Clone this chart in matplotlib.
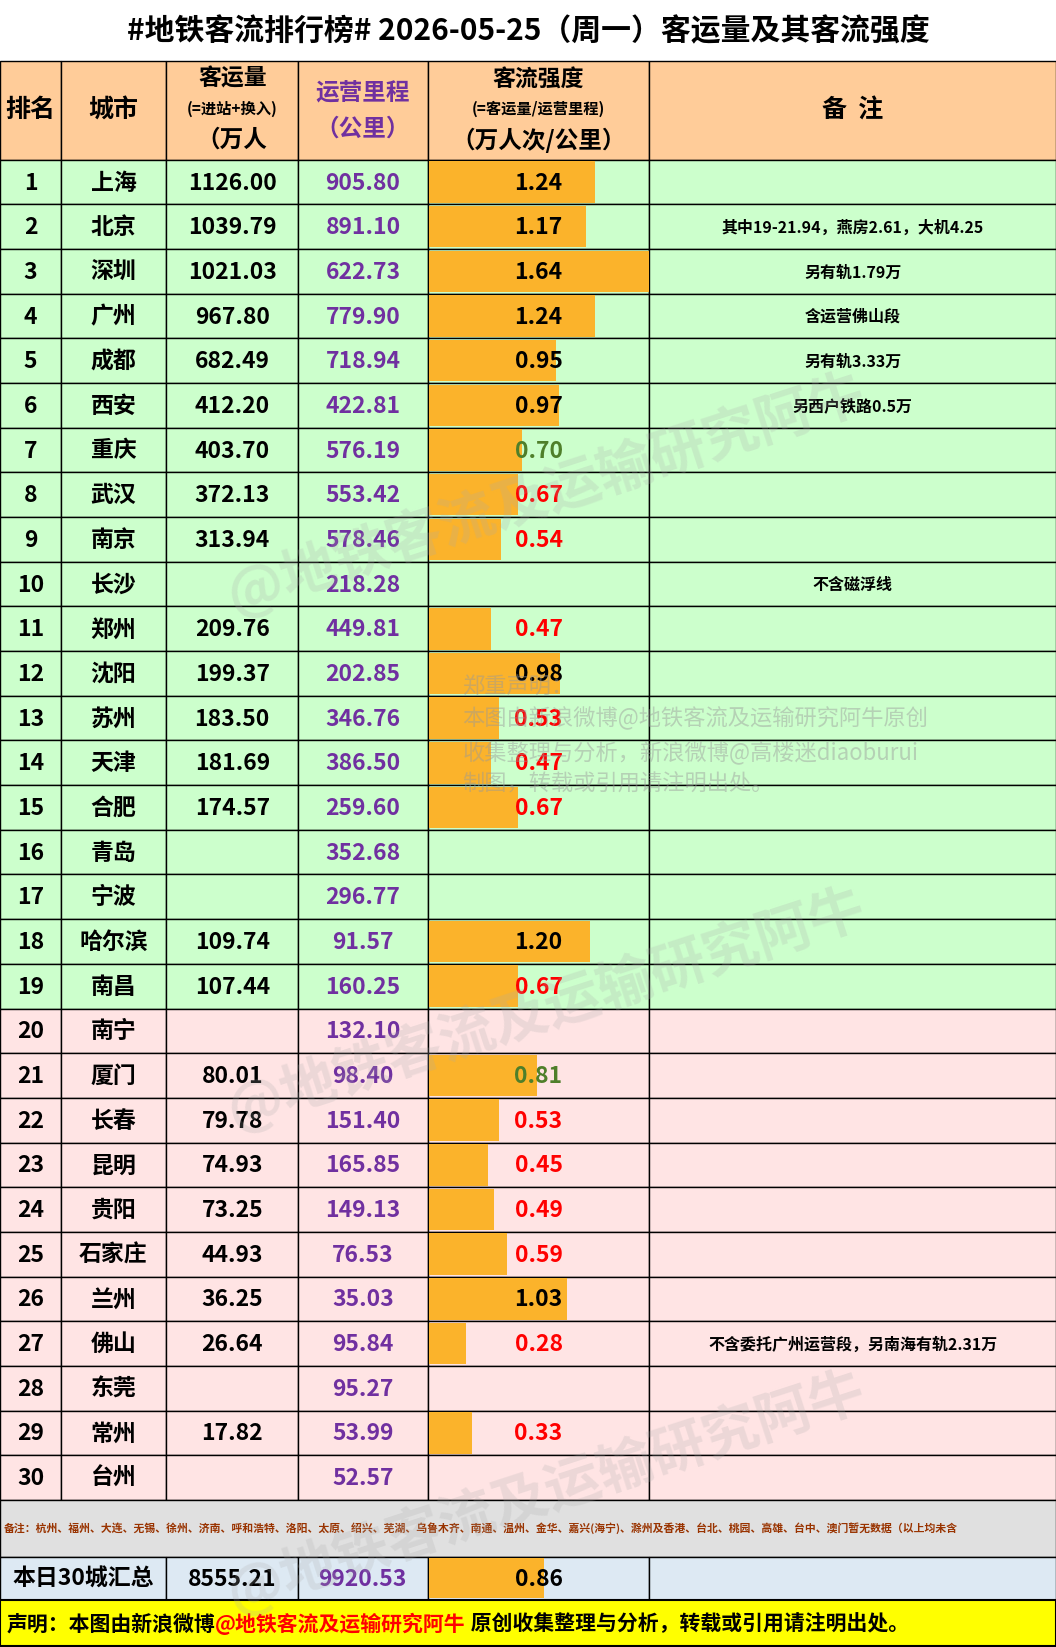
import matplotlib
matplotlib.use("Agg")
import matplotlib.pyplot as plt
from matplotlib.patches import Rectangle

plt.rcParams['font.family'] = ['Noto Sans CJK SC', 'DejaVu Sans']

ranks = list(range(1, 31))
cities = ["上海","北京","深圳","广州","成都","西安","重庆","武汉","南京","长沙","郑州","沈阳","苏州","天津","合肥",
          "青岛","宁波","哈尔滨","南昌","南宁","厦门","长春","昆明","贵阳","石家庄","兰州","佛山","东莞","常州","台州"]
volume = [1126.00,1039.79,1021.03,967.80,682.49,412.20,403.70,372.13,313.94,None,209.76,199.37,183.50,181.69,174.57,
          None,None,109.74,107.44,None,80.01,79.78,74.93,73.25,44.93,36.25,26.64,None,17.82,None]
mileage = [905.80,891.10,622.73,779.90,718.94,422.81,576.19,553.42,578.46,218.28,449.81,202.85,346.76,386.50,259.60,
           352.68,296.77,91.57,160.25,132.10,98.40,151.40,165.85,149.13,76.53,35.03,95.84,95.27,53.99,52.57]
intensity = [1.24,1.17,1.64,1.24,0.95,0.97,0.70,0.67,0.54,None,0.47,0.98,0.53,0.47,0.67,
             None,None,1.20,0.67,None,0.81,0.53,0.45,0.49,0.59,1.03,0.28,None,0.33,None]
remarks = {2:"其中19-21.94，燕房2.61，大机4.25",3:"另有轨1.79万",4:"含运营佛山段",5:"另有轨3.33万",
           6:"另西户铁路0.5万",10:"不含磁浮线",27:"不含委托广州运营段，另南海有轨2.31万"}
total_volume, total_mileage, total_intensity = "8555.21", "9920.53", 0.86

W, H = 1005, 1568
fig = plt.figure(figsize=(10.56, 16.47), dpi=100)
ax = fig.add_axes([0, 0, 1, 1])
ax.set_xlim(0, W); ax.set_ylim(H, 0); ax.axis('off')

cols = [0, 58, 158, 284, 407, 618, W]
cx = [(cols[i]+cols[i+1])/2 for i in range(6)]
PURPLE = '#7030a0'; ORANGE = '#fbb32b'

def rect(x0, y0, x1, y1, fc, lw=1.0):
    ax.add_patch(Rectangle((x0, y0), x1-x0, y1-y0, facecolor=fc, edgecolor='black', lw=lw))

ax.add_patch(Rectangle((0, 0), W, H, facecolor='white', edgecolor='none'))
ax.text(W/2, 30, "#地铁客流排行榜# 2026-05-25（周一）客运量及其客流强度", ha='center', va='center',
        fontsize=21.5, fontweight='bold')

hy0, hy1 = 58, 152
for i in range(6):
    rect(cols[i], hy0, cols[i+1], hy1, '#ffcc99')
ax.text(cx[0], 105, "排名", ha='center', va='center', fontsize=18, fontweight='bold')
ax.text(cx[1], 105, "城市", ha='center', va='center', fontsize=18, fontweight='bold')
ax.text(cx[2], 75, "客运量", ha='center', va='center', fontsize=16.5, fontweight='bold')
ax.text(cx[2], 104, "(=进站+换入)", ha='center', va='center', fontsize=11, fontweight='bold')
ax.text(cx[2], 133, "（万人", ha='center', va='center', fontsize=17, fontweight='bold')
ax.text(cx[3], 89, "运营里程", ha='center', va='center', fontsize=17, fontweight='bold', color=PURPLE)
ax.text(cx[3], 122, "（公里）", ha='center', va='center', fontsize=17, fontweight='bold', color=PURPLE)
ax.text(cx[4], 76, "客流强度", ha='center', va='center', fontsize=16.5, fontweight='bold')
ax.text(cx[4], 104, "(=客运量/运营里程)", ha='center', va='center', fontsize=11, fontweight='bold')
ax.text(cx[4], 134, "（万人次/公里）", ha='center', va='center', fontsize=17, fontweight='bold')
ax.text(cx[5], 105, "备  注", ha='center', va='center', fontsize=18, fontweight='bold')

y0 = 152; rh = (1428-152)/30
maxI = 1.64
barw = cols[5]-cols[4]
for i, r in enumerate(ranks):
    ya = y0 + i*rh; yb = ya + rh; ym = (ya+yb)/2
    fc = '#ccffcc' if r <= 19 else '#ffe4e4'
    for j in range(6):
        rect(cols[j], ya, cols[j+1], yb, fc)
    v = intensity[i]
    if v is not None:
        ax.add_patch(Rectangle((cols[4]+1, ya+1.5), v/maxI*barw-1, rh-3, facecolor=ORANGE, edgecolor='none'))
        col = 'black' if v >= 0.9 else ('#4f7f2a' if v >= 0.7 else '#ff0000')
        ax.text(cx[4], ym+1, f"{v:.2f}", ha='center', va='center', fontsize=16.5, fontweight='bold', color=col)
    ax.text(cx[0], ym+1, str(r), ha='center', va='center', fontsize=16.5, fontweight='bold')
    ax.text(cx[1], ym+1, cities[i], ha='center', va='center', fontsize=16.5, fontweight='bold')
    if volume[i] is not None:
        ax.text(cx[2], ym+1, f"{volume[i]:.2f}", ha='center', va='center', fontsize=16.5, fontweight='bold')
    ax.text(cx[3], ym+1, f"{mileage[i]:.2f}", ha='center', va='center', fontsize=16.5, fontweight='bold', color=PURPLE)
    if r in remarks:
        ax.text(cx[5], ym+1, remarks[r], ha='center', va='center', fontsize=11.5, fontweight='bold')

rect(0, 1428, W, 1482, '#e0e0e0')
ax.text(4, 1455, "备注：杭州、福州、大连、无锡、徐州、济南、呼和浩特、洛阳、太原、绍兴、芜湖、乌鲁木齐、南通、温州、金华、嘉兴(海宁)、滁州及香港、台北、桃园、高雄、台中、澳门暂无数据（以上均未含",
        ha='left', va='center', fontsize=7.8, fontweight='bold', color='#993300', clip_on=True)

ty0, ty1 = 1482, 1523
tcols = [0, 158, 284, 407, 618, W]
for j in range(5):
    rect(tcols[j], ty0, tcols[j+1], ty1, '#dde9f3')
ax.add_patch(Rectangle((407+1, ty0+1.5), total_intensity/maxI*barw-1, ty1-ty0-3, facecolor=ORANGE, edgecolor='none'))
tm = (ty0+ty1)/2 + 1
ax.text(79, tm, "本日30城汇总", ha='center', va='center', fontsize=16.5, fontweight='bold')
ax.text(221, tm, total_volume, ha='center', va='center', fontsize=16.5, fontweight='bold')
ax.text(345, tm, total_mileage, ha='center', va='center', fontsize=16.5, fontweight='bold', color=PURPLE)
ax.text(cx[4], tm, f"{total_intensity:.2f}", ha='center', va='center', fontsize=16.5, fontweight='bold')

rect(0, 1523, W, H-1, '#ffff00', lw=1.5)
fig.canvas.draw()
r = fig.canvas.get_renderer()
x = 6
inv = ax.transData.inverted()
for s, c in [("声明：本图由新浪微博", 'black'), ("@地铁客流及运输研究阿牛", '#ff0000'),
             (" 原创收集整理与分析，转载或引用请注明出处。", 'black')]:
    t = ax.text(x, 1546, s, ha='left', va='center', fontsize=15, fontweight='bold', color=c)
    bb = t.get_window_extent(renderer=r)
    x = inv.transform((bb.x1, bb.y0))[0]

ax.text(440, 700, "郑重声明：\n本图由新浪微博@地铁客流及运输研究阿牛原创\n收集整理与分析，新浪微博@高楼迷diaoburui\n制图，转载或引用请注明出处。",
        ha='left', va='center', fontsize=16, color='#999999', alpha=0.45, linespacing=1.5)
for (xx, y) in [(520, 470), (520, 960), (520, 1420)]:
    ax.text(xx, y, "@地铁客流及运输研究阿牛", ha='center', va='center', fontsize=40, color='#aaaaaa',
            alpha=0.22, rotation=18, fontweight='bold')

fig.savefig("out.png", dpi=100)
